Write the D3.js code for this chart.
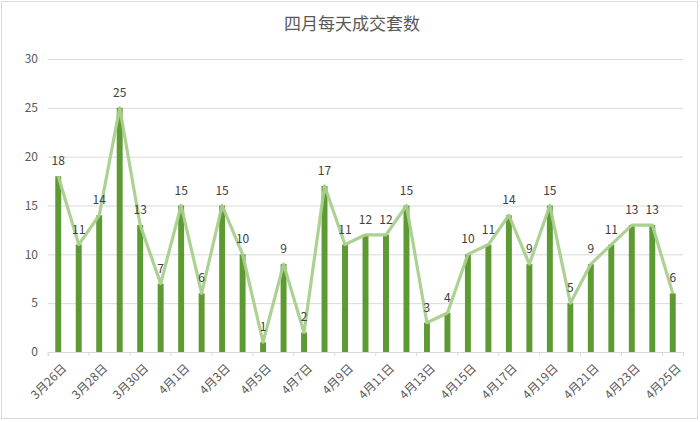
<!DOCTYPE html>
<html><head><meta charset="utf-8">
<script src="https://cdn.jsdelivr.net/npm/d3@7"></script>
<style>body{margin:0;background:#fff;}svg{display:block;font-family:"Noto Sans CJK SC","Noto Sans",sans-serif;}</style>
</head><body>
<script>
const categories = ["3月26日","3月27日","3月28日","3月29日","3月30日","3月31日","4月1日","4月2日","4月3日","4月4日","4月5日","4月6日","4月7日","4月8日","4月9日","4月10日","4月11日","4月12日","4月13日","4月14日","4月15日","4月16日","4月17日","4月18日","4月19日","4月20日","4月21日","4月22日","4月23日","4月24日","4月25日"];
const values = [18,11,14,25,13,7,15,6,15,10,1,9,2,17,11,12,12,15,3,4,10,11,14,9,15,5,9,11,13,13,6];
const yTicks = [0,5,10,15,20,25,30];
const title = "四月每天成交套数";

const W = 700, H = 422;
const m = {left:48, right:17, top:59};
const svg = d3.select("body").append("svg").attr("width",W).attr("height",H);
svg.append("rect").attr("x",1.5).attr("y",1.5).attr("width",W-4).attr("height",H-5)
  .attr("fill","#fff").attr("stroke","#d9d9d9").attr("stroke-width",1);

const x = d3.scaleBand().domain(categories).range([m.left, W-m.right]).paddingInner(0.71).paddingOuter(0.355);
const y = d3.scaleLinear().domain([0,30]).range([352, m.top]);

// grid
svg.append("g").selectAll("line").data(yTicks.filter(d=>d>0)).join("line")
  .attr("x1",m.left).attr("x2",W-m.right).attr("y1",d=>y(d)+0.5).attr("y2",d=>y(d)+0.5)
  .attr("stroke","#d9d9d9").attr("stroke-width",1);

// y labels
svg.append("g").selectAll("text").data(yTicks).join("text")
  .attr("x",38).attr("y",d=>y(d)).attr("dy","0.35em").attr("text-anchor","end")
  .attr("font-size",12).attr("fill","#595959").text(d=>d);

// bars
svg.append("g").selectAll("rect").data(values).join("rect")
  .attr("x",(d,i)=>x(categories[i])).attr("width",x.bandwidth())
  .attr("y",d=>y(d)).attr("height",d=>y(0)-y(d)).attr("fill","#5e9a32");

// x axis
const xa = d3.axisBottom(x).tickSize(4).tickFormat((d,i)=>i%2===0?d:"");
const gx = svg.append("g").attr("transform",`translate(0,${y(0)})`).call(xa);
gx.select(".domain").attr("stroke","#d9d9d9");
gx.selectAll(".tick line").remove();
const step = x.step();
svg.append("g").selectAll("line").data(d3.range(0, categories.length+1, 2)).join("line")
  .attr("x1",i=>m.left + i*step).attr("x2",i=>m.left + i*step)
  .attr("y1",y(0)).attr("y2",y(0)+4).attr("stroke","#d9d9d9");
gx.selectAll(".tick text")
  .attr("font-size",12).attr("fill","#595959")
  .attr("text-anchor","end").attr("dx",0).attr("dy","0.35em")
  .attr("y",0)
  .attr("transform","translate(6,14) rotate(-45)");
gx.style("font-family","'Noto Sans CJK SC',sans-serif");

// line
const line = d3.line().x((d,i)=>x(categories[i])+x.bandwidth()/2).y(d=>y(d));
svg.append("path").datum(values).attr("d",line).attr("fill","none")
  .attr("stroke","#a9cf8d").attr("stroke-width",3.2).attr("stroke-linejoin","round").attr("opacity",0.95);

// labels
svg.append("g").selectAll("text").data(values).join("text")
  .attr("x",(d,i)=>x(categories[i])+x.bandwidth()/2).attr("y",d=>y(d)-11)
  .attr("text-anchor","middle").attr("font-size",12).attr("fill","#404040").text(d=>d);

// title
svg.append("text").attr("x",352).attr("y",30).attr("text-anchor","middle")
  .attr("font-size",17).attr("fill","#595959").text(title);
</script>
</body></html>
